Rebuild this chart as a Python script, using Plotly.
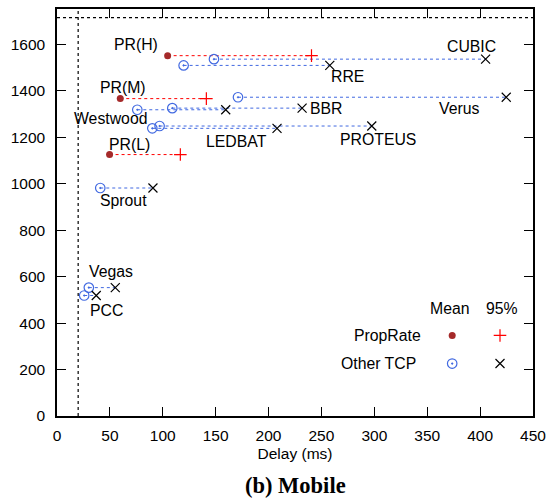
import plotly.graph_objects as go

# ---------------- data ----------------
# PropRate variants: mean delay, 95th pct delay, throughput (kbps)
pr_names = ["PR(H)", "PR(M)", "PR(L)"]
pr_mean_delay = [104.6, 59.8, 49.7]
pr_p95_delay = [240.6, 141.2, 116.6]
pr_tput = [1552, 1367, 1126]

# Other TCP variants
tcp_names = ["CUBIC", "RRE", "Verus", "BBR", "Westwood", "LEDBAT", "PROTEUS", "Sprout", "Vegas", "PCC"]
tcp_mean_delay = [148.4, 119.7, 171.1, 109.0, 75.9, 90.1, 97.0, 40.9, 30.1, 25.7]
tcp_p95_delay = [405.2, 257.9, 424.7, 231.7, 159.5, 208.0, 297.6, 90.7, 55.1, 37.1]
tcp_tput = [1537, 1510, 1373, 1326, 1319, 1239, 1249, 982, 553, 519]

# reference lines
min_delay = 20
capacity = 1716

x_ticks = [0, 50, 100, 150, 200, 250, 300, 350, 400, 450]
y_ticks = [0, 200, 400, 600, 800, 1000, 1200, 1400, 1600]

# label placement (text position for each protocol name)
pr_label_pos = {"PR(H)": (75, 1599), "PR(M)": (62, 1414), "PR(L)": (69, 1171)}
tcp_label_pos = {
    "CUBIC": (392, 1590), "RRE": (275, 1462), "Verus": (380, 1323),
    "BBR": (254, 1326), "Westwood": (51, 1282), "LEDBAT": (170, 1183),
    "PROTEUS": (303, 1193), "Sprout": (63, 930), "Vegas": (51, 623),
    "PCC": (47, 454),
}

# legend anchor (data coords)
leg_mean_x, leg_p95_x = 373.6, 418.8
leg_pr_y, leg_tcp_y, leg_head_y = 347, 226, 465
leg_text_x = 346

# ---------------- styles ----------------
FONT = "Liberation Sans, Arial, sans-serif"
DARKRED = "#a52a2a"
RED = "#ff0000"
BLUE = "#4169e1"
LBL = dict(size=15.8, color="black")

fig = go.Figure()

# dashed connectors
for md, pd_, t in zip(pr_mean_delay, pr_p95_delay, pr_tput):
    fig.add_trace(go.Scatter(x=[md, pd_], y=[t, t], mode="lines",
                             line=dict(color=RED, width=1, dash="3px,3px"),
                             showlegend=False, hoverinfo="skip"))
for md, pd_, t in zip(tcp_mean_delay, tcp_p95_delay, tcp_tput):
    fig.add_trace(go.Scatter(x=[md, pd_], y=[t, t], mode="lines",
                             line=dict(color=BLUE, width=1, dash="3px,3px"),
                             showlegend=False, hoverinfo="skip"))

def mean_pr(x, y):
    return go.Scatter(x=x, y=y, mode="markers",
                      marker=dict(symbol="circle", size=7, color=DARKRED),
                      showlegend=False)

def p95_pr(x, y):
    return go.Scatter(x=x, y=y, mode="markers",
                      marker=dict(symbol="cross-thin-open", size=9, color=RED,
                                  line=dict(color=RED, width=1.2)),
                      showlegend=False)

def mean_tcp(x, y):
    return go.Scatter(x=x, y=y, mode="markers",
                      marker=dict(symbol="circle-open-dot", size=9.5, color=BLUE,
                                  line=dict(color=BLUE, width=1.2)),
                      showlegend=False)

def p95_tcp(x, y):
    return go.Scatter(x=x, y=y, mode="markers",
                      marker=dict(symbol="x-thin-open", size=9, color="black",
                                  line=dict(color="black", width=1.2)),
                      showlegend=False)

fig.add_trace(mean_pr(pr_mean_delay, pr_tput))
fig.add_trace(p95_pr(pr_p95_delay, pr_tput))
fig.add_trace(mean_tcp(tcp_mean_delay, tcp_tput))
fig.add_trace(p95_tcp(tcp_p95_delay, tcp_tput))

# legend markers
fig.add_trace(mean_pr([leg_mean_x], [leg_pr_y]))
fig.add_trace(p95_pr([leg_p95_x], [leg_pr_y]))
fig.add_trace(mean_tcp([leg_mean_x], [leg_tcp_y]))
fig.add_trace(p95_tcp([leg_p95_x], [leg_tcp_y]))

annotations = []
for name in pr_names:
    x, y = pr_label_pos[name]
    annotations.append(dict(x=x, y=y, text=name, showarrow=False, font=LBL,
                            xanchor="center", yanchor="middle"))
for name in tcp_names:
    x, y = tcp_label_pos[name]
    annotations.append(dict(x=x, y=y, text=name, showarrow=False, font=LBL,
                            xanchor="center", yanchor="middle"))
annotations += [
    dict(x=leg_mean_x - 2, y=leg_head_y, text="Mean", showarrow=False, font=LBL, xanchor="center", yanchor="middle"),
    dict(x=leg_p95_x + 2, y=leg_head_y, text="95%", showarrow=False, font=LBL, xanchor="center", yanchor="middle"),
    dict(x=leg_text_x, y=leg_pr_y, text="PropRate", showarrow=False, font=LBL, xanchor="right", yanchor="middle"),
    dict(x=leg_text_x - 5, y=leg_tcp_y, text="Other TCP", showarrow=False, font=LBL, xanchor="right", yanchor="middle"),
    dict(x=0.5, y=-0.17, xref="paper", yref="paper", text="<b>(b) Mobile</b>", showarrow=False,
         xanchor="center", yanchor="middle",
         font=dict(family="Liberation Serif, Times New Roman, serif", size=22.5, color="black")),
]

shapes = [
    dict(type="line", xref="x", yref="paper", x0=min_delay, x1=min_delay, y0=0, y1=1,
         line=dict(color="black", width=1.2, dash="3px,3px")),
    dict(type="line", xref="paper", yref="y", x0=0, x1=1, y0=capacity, y1=capacity,
         line=dict(color="black", width=1.2, dash="3px,3px")),
]

fig.update_layout(
    width=558, height=502,
    margin=dict(l=57, r=25, t=7, b=86),
    paper_bgcolor="white", plot_bgcolor="white",
    font=dict(family=FONT, size=15.5, color="black"),
    annotations=annotations, shapes=shapes,
    showlegend=False,
)
fig.update_xaxes(
    range=[0, 450], tickvals=x_ticks, ticks="inside", ticklen=9, tickwidth=1,
    tickcolor="black", showline=True, linecolor="black", linewidth=1.5,
    mirror="allticks", showgrid=False, zeroline=False,
    title=dict(text="Delay (ms)", standoff=5, font=dict(size=15.5)),
    ticklabelstandoff=5,
)
fig.update_yaxes(
    range=[0, 1753], tickvals=y_ticks, ticks="inside", ticklen=9, tickwidth=1,
    tickcolor="black", showline=True, linecolor="black", linewidth=1.5,
    mirror="allticks", showgrid=False, zeroline=False,
    ticklabelstandoff=7,
)

fig.write_html("out.html")
